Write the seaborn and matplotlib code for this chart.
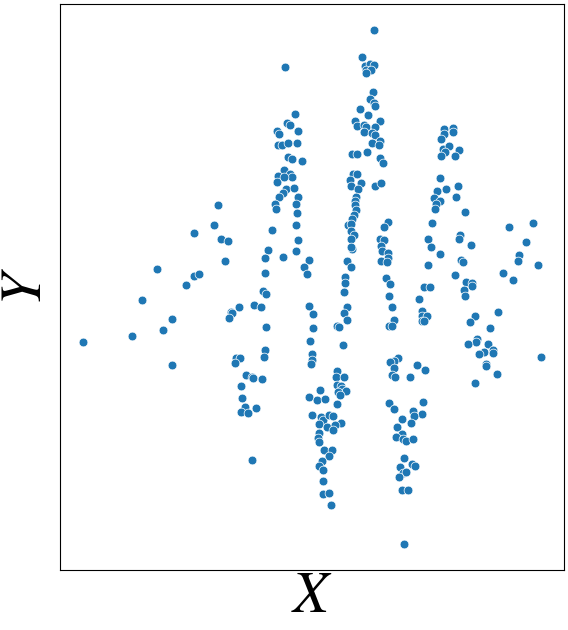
import numpy as np
import pandas as pd
import matplotlib
matplotlib.use('Agg')
import matplotlib.pyplot as plt
import seaborn as sns

# Точки (по столбикам слева направо)
x_left = [83.3, 132.3, 142.3, 157.3, 163.3, 172.3, 172.3, 186.3, 194, 199.3, 194.3, 214.3, 218.3, 221.3,
          228.7, 225.3, 239.3, 231.7, 232.3, 229.7, 254, 236.7, 240.3, 235.3, 246.5, 252, 253.5, 262.3,
          241.3, 242, 245.7, 241.3, 248.3, 256.7, 252.3]
y_left = [343.3, 337.3, 301, 269.3, 331.3, 320, 366.3, 285.3, 276.3, 274.3, 233.3, 225.3, 205.3, 239.3,
          241.3, 261.3, 308.3, 313, 314.3, 319.3, 306.3, 359, 359.3, 364.3, 376, 377.7, 378.5, 380,
          387.3, 399, 407.7, 413.3, 414.3, 409.3, 461.3]

x_col2 = [285.3, 295.3, 287.3, 290.3, 277.7, 279.3, 298.3, 278, 282.7, 288, 297.3, 288.7, 292.3, 302.3,
          284.3, 290, 292.7, 278, 277.3, 284.7, 286, 294, 283.3, 279.3, 298.7, 275, 276.7, 296.7,
          297.3, 296.7, 272.3, 298.3, 296.7, 268.7, 265.3, 283.3, 309.3, 304.3, 307.3, 265.3, 263.3,
          266.7, 261.3, 309.3, 313.3, 313.3, 266.3, 310.3, 265.3, 264.7, 312.3, 312, 311.3]
y_col2 = [67.3, 114.3, 124, 125.7, 131.3, 134.3, 132, 145.3, 145.3, 144, 143.3, 157.7, 160, 161.3,
          171, 174.7, 178, 176.7, 182.7, 178, 189.3, 189, 194, 197.7, 197.7, 204.7, 209.3, 204.7,
          213.3, 225.3, 230.3, 240.3, 251.3, 250.3, 258.3, 257.3, 260.3, 267.3, 274.3, 273.3, 292,
          294.7, 308, 307.3, 315.3, 329.3, 328, 342.3, 351, 358.3, 355.3, 361.3, 365.3]

x_col3 = [374.3, 362.3, 365, 370, 374.3, 366.7, 371.7, 366, 373.3, 370, 374, 375.3, 360.3, 368.3,
          355.3, 380.3, 357.3, 364, 366.3, 375.3, 364.3, 372.3, 375.7, 380.3, 372.7, 379.3, 352.7,
          357.3, 367.3, 380.3, 383.3, 353.3, 357.3, 350, 361, 351.3, 358, 375.3, 381.3, 356,
          355.3, 355.3, 356.5, 354.3, 352.3, 348.3, 351, 351.3, 354.3, 351.7, 352.3, 351, 347.3,
          351.7, 345.3, 345.3, 344.3, 347.3, 344.3, 347.3, 337, 339.3, 343.3,
          337.3, 336.7, 344.3, 337.3, 341, 342.7, 346.7, 338.3, 340.3, 320.7, 309.3, 317.3, 325.3,
          337.3, 312.3, 321, 323.3, 329.3, 333.3, 341.7, 319.3, 327.3, 335, 333.3, 319.3, 318.7,
          319.3, 324.3, 332.3, 329.3, 322.3, 319.3, 323.3, 323.3, 323.3, 329.3, 331.3]
y_col3 = [30.3, 57.3, 66.7, 65, 66, 70.7, 70.7, 74, 92.3, 100, 103.3, 106.7, 109.3, 115.7,
          122, 121.3, 126.7, 125.3, 127.3, 127.3, 132.7, 133.3, 135.7, 142, 143.3, 145.7, 154.3,
          154.3, 152.3, 158.7, 163.3, 175, 175, 180.3, 184, 186.7, 190, 187, 184, 197.3,
          201.3, 206, 210.5, 216, 220, 225.3, 224.7, 232, 235.7, 240, 249.3, 247.3, 261.3,
          267.7, 278, 283.3, 293.3, 308.3, 314.3, 321.3, 326.7, 328.3, 346.3,
          371.5, 378.3, 378.3, 386, 387.3, 390, 392.3, 393.3, 396, 391, 398.3, 401.3, 400.3,
          405.3, 416, 418.3, 421.3, 416, 417.3, 424.3, 425.3, 427.7, 425.7, 431.3, 434, 439,
          443, 451, 451, 456.7, 461.7, 467, 471, 481.7, 495, 494, 506]

x_col4 = [388.3, 384, 380, 384.3, 381.7, 382.7, 388.3, 388.3, 381, 387.3, 386, 390.3, 389.3, 392.3,
          394.3, 389.3, 392.3, 398, 394.5, 390, 394, 392.7, 395.7, 417.3, 425.3, 410.3, 389.3,
          394.3, 423.3, 413.3, 422.3, 414.3, 402.3, 411.3, 397.3, 402, 396.3, 403.3, 406.7, 413.3,
          404.3, 400.3, 412.7, 415.3, 403.3, 406.7, 399.3, 402.3, 408.3, 404.3]
y_col4 = [222.3, 227.3, 239.3, 240.3, 246.7, 251.7, 253.3, 258.3, 262, 262.7, 278.3, 284.3, 297.3, 308.3,
          321, 327.3, 326.7, 359, 362.3, 363.3, 369.3, 376, 378, 366, 371.3, 378, 404,
          410.3, 403.3, 412, 415.3, 416.7, 420, 424.3, 428.3, 435, 438.3, 440, 442, 440.3,
          459.3, 468.3, 465, 467.3, 474.3, 473.3, 478, 491.3, 491.3, 545.3]

x_col5 = [444.3, 453.3, 453.3, 444.3, 441.7, 443.3, 449.3, 445.7, 459.3, 441.3, 455.7, 440.3, 458.3,
          446.3, 437.3, 434.3, 440.3, 436.3, 456.3, 435.3, 465.3, 432.3, 428.3, 460.3, 459.3, 471,
          431.3, 440.3, 461.7, 463.3, 428.3, 455.3, 466.3, 472.3, 472.3, 464.3, 465.7, 424, 430.3,
          419.3, 422.3, 422, 427.7, 422, 424.7, 475.3, 470.3, 490.3, 498, 477.3, 476, 468.3, 488.3,
          484.3, 479.3, 493.7, 493.7, 486.3, 486.3, 497.3, 475.3]
y_col5 = [130, 128.3, 132.7, 135, 139.3, 149.3, 147, 152.3, 150.3, 156.3, 156.3, 178.3, 186.3,
          189.3, 192, 198.3, 202, 204.7, 197.3, 210, 212.3, 223.3, 239.3, 235.3, 239.7, 245.3,
          247.3, 254.3, 260.7, 262.3, 265.3, 275.3, 283, 283.7, 286.3, 291, 297.3, 288.3, 287.3,
          300.3, 312, 317.3, 317.3, 322.3, 322.3, 317.3, 323.3, 329.3, 313.3, 340.3, 343.3, 345.3, 345.3,
          353.3, 355.3, 351, 354.3, 364.7, 367.3, 375.3, 384]

x_right = [509.3, 533.3, 526, 519.3, 518.3, 538.3, 503.3, 513.3, 541.3]
y_right = [227.3, 223.3, 242.3, 255.3, 261.3, 265.3, 273.3, 280.7, 358.3]

x_all = x_left + x_col2 + x_col3 + x_col4 + x_col5 + x_right
y_all = y_left + y_col2 + y_col3 + y_col4 + y_col5 + y_right
df = pd.DataFrame({'X': x_all, 'Y': y_all})

plt.rcParams['mathtext.fontset'] = 'stix'

fig = plt.figure(figsize=(5.68, 6.3), dpi=100)
ax = fig.add_axes([60 / 568, 60 / 630, 504 / 568, 566 / 630])
sns.scatterplot(data=df, x='X', y='Y', ax=ax, s=40)
# значения читались сверху вниз, поэтому переворачиваем ось
ax.invert_yaxis()
ax.set_xticks([])
ax.set_yticks([])
ax.set_xlabel('$X$', fontsize=42, labelpad=-2)
ax.set_ylabel('$Y$', fontsize=42, labelpad=5)
fig.savefig('out.png', dpi=100)
